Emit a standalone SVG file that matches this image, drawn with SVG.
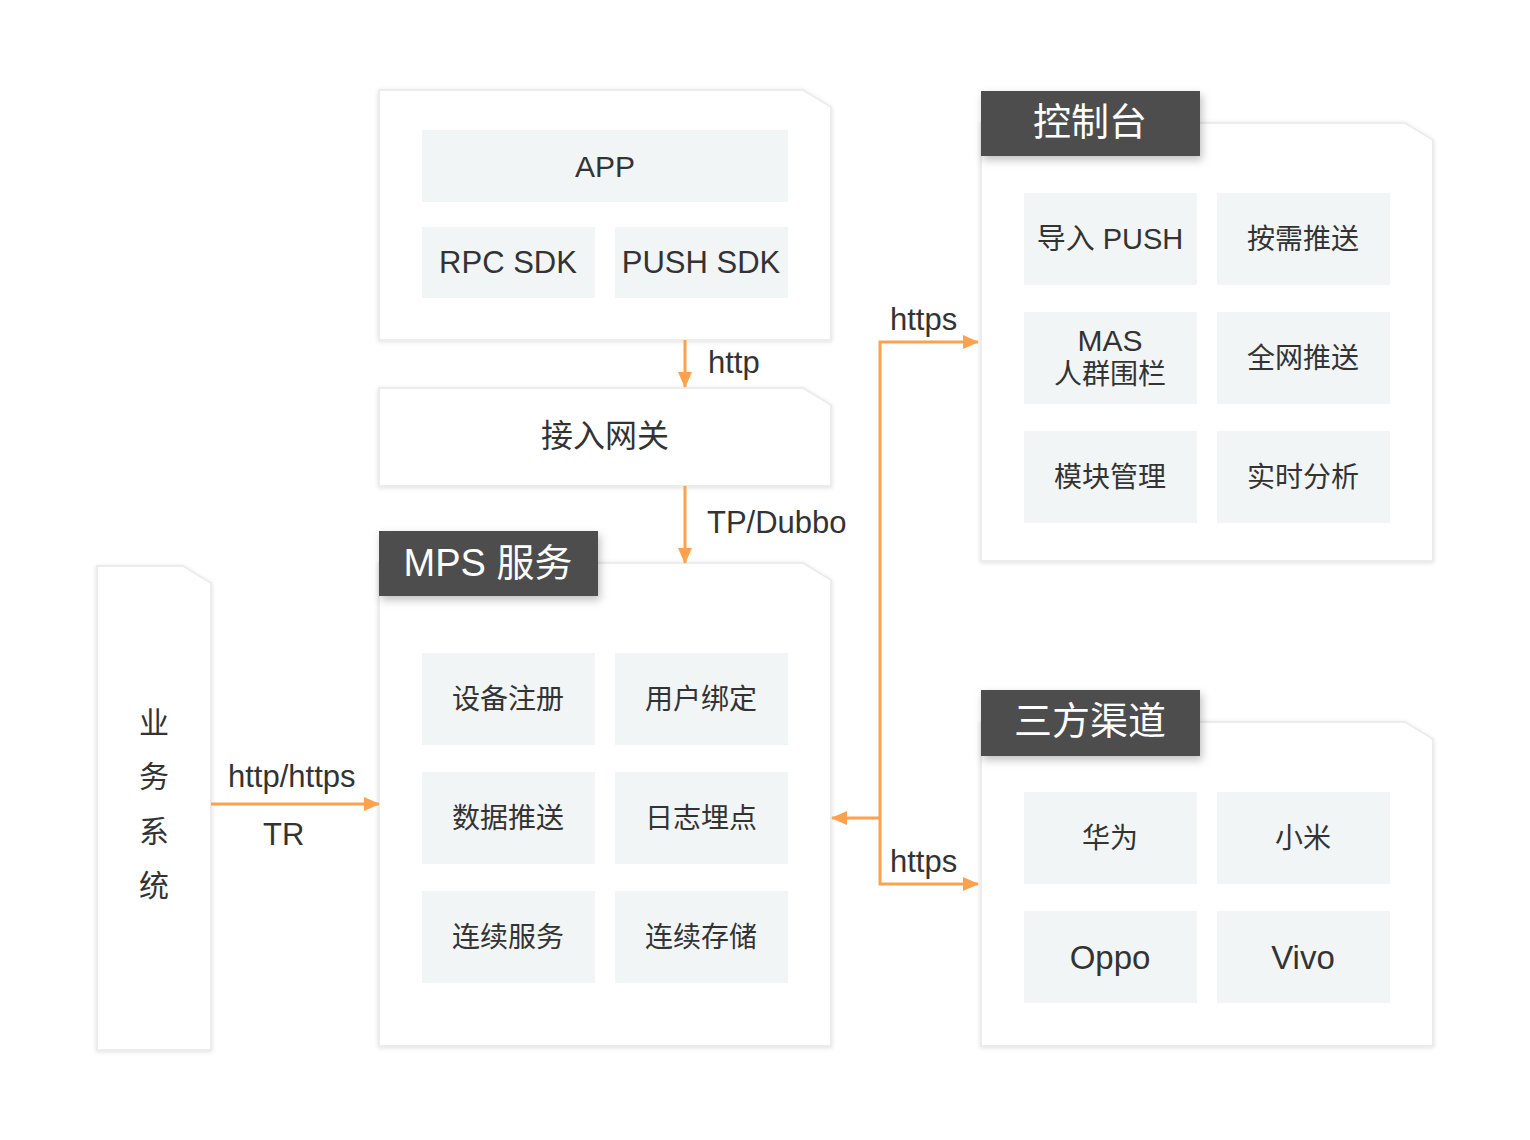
<svg xmlns="http://www.w3.org/2000/svg" width="1530" height="1140" viewBox="0 0 1530 1140">
<defs>
<style>
.ct{fill:#fff;stroke:#ececec;stroke-width:2}
.cell{fill:#f2f5f6}
.t{font-family:"Liberation Sans","Noto Sans CJK SC",sans-serif;fill:#333;text-anchor:middle;dominant-baseline:central}
.hd{fill:#4d4d4d}
.ht{font-family:"Liberation Sans","Noto Sans CJK SC",sans-serif;fill:#fff;text-anchor:middle;dominant-baseline:central;font-size:38px}
.lb{font-family:"Liberation Sans","Noto Sans CJK SC",sans-serif;fill:#333;font-size:31px}
.cn{fill:none;stroke:#fca24f;stroke-width:3}
</style>
<filter id="sh" x="-10%" y="-10%" width="120%" height="120%">
<feDropShadow dx="0" dy="1" stdDeviation="2" flood-color="#000" flood-opacity="0.12"/>
</filter>
<filter id="hs" x="-20%" y="-20%" width="140%" height="150%">
<feDropShadow dx="2" dy="4" stdDeviation="4" flood-color="#000" flood-opacity="0.25"/>
</filter>
<marker id="ah" markerWidth="16" markerHeight="14" refX="15" refY="7" orient="auto-start-reverse" markerUnits="userSpaceOnUse">
<path d="M0,0 L16,7 L0,14 Z" fill="#fca24f"/>
</marker>
</defs>

<g id="app-node">
<path class="ct" filter="url(#sh)" d="M379,90 H803 L831,107 V340 H379 Z"/>
<rect class="cell" x="422" y="130" width="366" height="72"/>
<text class="t" x="605" y="166" font-size="30">APP</text>
<rect class="cell" x="422" y="227" width="173" height="71"/>
<text class="t" x="508" y="262" font-size="31">RPC SDK</text>
<rect class="cell" x="615" y="227" width="173" height="71"/>
<text class="t" x="701" y="262" font-size="31">PUSH SDK</text>
</g>

<g id="gateway-node">
<path class="ct" filter="url(#sh)" d="M379,388 H803 L831,405 V486 H379 Z"/>
<text class="t" x="605" y="436" font-size="32">接入网关</text>
</g>

<g id="mps-node">
<path class="ct" filter="url(#sh)" d="M379,563 H803 L831,580 V1046 H379 Z"/>
<rect class="hd" filter="url(#hs)" x="379" y="531" width="219" height="65"/>
<text class="ht" x="488" y="563" font-size="40">MPS 服务</text>
<rect class="cell" x="422" y="653" width="173" height="92"/>
<text class="t" x="508" y="699" font-size="28">设备注册</text>
<rect class="cell" x="615" y="653" width="173" height="92"/>
<text class="t" x="701" y="699" font-size="28">用户绑定</text>
<rect class="cell" x="422" y="772" width="173" height="92"/>
<text class="t" x="508" y="818" font-size="28">数据推送</text>
<rect class="cell" x="615" y="772" width="173" height="92"/>
<text class="t" x="701" y="818" font-size="28">日志埋点</text>
<rect class="cell" x="422" y="891" width="173" height="92"/>
<text class="t" x="508" y="937" font-size="28">连续服务</text>
<rect class="cell" x="615" y="891" width="173" height="92"/>
<text class="t" x="701" y="937" font-size="28">连续存储</text>
</g>

<g id="biz-node">
<path class="ct" filter="url(#sh)" d="M97,566 H183 L211,583 V1050 H97 Z"/>
<text class="t" x="154" y="722" font-size="30">业</text>
<text class="t" x="154" y="776" font-size="30">务</text>
<text class="t" x="154" y="831" font-size="30">系</text>
<text class="t" x="154" y="885" font-size="30">统</text>
</g>

<g id="console-node">
<path class="ct" filter="url(#sh)" d="M981,123 H1405 L1433,140 V561 H981 Z"/>
<rect class="hd" filter="url(#hs)" x="981" y="91" width="219" height="65"/>
<text class="ht" x="1090" y="122">控制台</text>
<rect class="cell" x="1024" y="193" width="173" height="92"/>
<text class="t" x="1110" y="239" font-size="29">导入 PUSH</text>
<rect class="cell" x="1217" y="193" width="173" height="92"/>
<text class="t" x="1303" y="239" font-size="28">按需推送</text>
<rect class="cell" x="1024" y="312" width="173" height="92"/>
<text class="t" x="1110" y="340" font-size="30">MAS</text>
<text class="t" x="1110" y="374" font-size="28">人群围栏</text>
<rect class="cell" x="1217" y="312" width="173" height="92"/>
<text class="t" x="1303" y="358" font-size="28">全网推送</text>
<rect class="cell" x="1024" y="431" width="173" height="92"/>
<text class="t" x="1110" y="477" font-size="28">模块管理</text>
<rect class="cell" x="1217" y="431" width="173" height="92"/>
<text class="t" x="1303" y="477" font-size="28">实时分析</text>
</g>

<g id="channel-node">
<path class="ct" filter="url(#sh)" d="M981,722 H1405 L1433,739 V1046 H981 Z"/>
<rect class="hd" filter="url(#hs)" x="981" y="690" width="219" height="66"/>
<text class="ht" x="1090" y="721">三方渠道</text>
<rect class="cell" x="1024" y="792" width="173" height="92"/>
<text class="t" x="1110" y="838" font-size="28">华为</text>
<rect class="cell" x="1217" y="792" width="173" height="92"/>
<text class="t" x="1303" y="838" font-size="28">小米</text>
<rect class="cell" x="1024" y="911" width="173" height="92"/>
<text class="t" x="1110" y="957" font-size="33">Oppo</text>
<rect class="cell" x="1217" y="911" width="173" height="92"/>
<text class="t" x="1303" y="957" font-size="33">Vivo</text>
</g>

<g id="connectors">
<line class="cn" x1="685" y1="340" x2="685" y2="387" marker-end="url(#ah)"/>
<text class="lb" x="708" y="373">http</text>
<line class="cn" x1="685" y1="486" x2="685" y2="563" marker-end="url(#ah)"/>
<text class="lb" x="707" y="533">TP/Dubbo</text>
<line class="cn" x1="211" y1="804" x2="379" y2="804" marker-end="url(#ah)"/>
<text class="lb" x="228" y="787">http/https</text>
<text class="lb" x="263" y="845">TR</text>
<polyline class="cn" points="978,342 880,342 880,884 978,884" marker-start="url(#ah)" marker-end="url(#ah)"/>
<line class="cn" x1="880" y1="818" x2="832" y2="818" marker-end="url(#ah)"/>
<text class="lb" x="890" y="330">https</text>
<text class="lb" x="890" y="872">https</text>
</g>
</svg>
